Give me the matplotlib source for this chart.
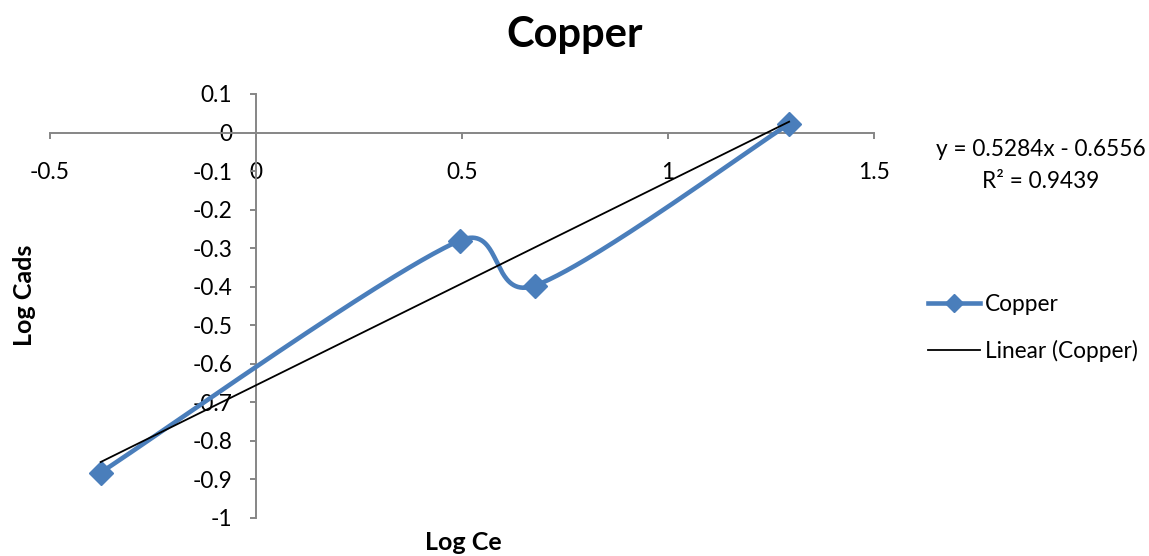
import numpy as np
import matplotlib
matplotlib.use("Agg")
import matplotlib.pyplot as plt
from matplotlib.lines import Line2D

plt.rcParams['font.family'] = ['Lato', 'DejaVu Sans']

# ---- data ----
log_ce = [-0.377, 0.494, 0.677, 1.294]
log_cads = [-0.882, -0.2805, -0.397, 0.0225]
trend_slope = 0.5284
trend_intercept = -0.6556
trend_r2 = 0.9439
x_ticks = [-0.5, 0, 0.5, 1, 1.5]
x_tick_labels = ['-0.5', '0', '0.5', '1', '1.5']
y_ticks = [0.1, 0, -0.1, -0.2, -0.3, -0.4, -0.5, -0.6, -0.7, -0.8, -0.9, -1]
y_tick_labels = ['0.1', '0', '-0.1', '-0.2', '-0.3', '-0.4', '-0.5', '-0.6',
                 '-0.7', '-0.8', '-0.9', '-1']
series_name = 'Copper'
trend_name = 'Linear (Copper)'

BLUE = '#4A7EBB'
GRAY = '#868686'

W, H = 1149, 556
fig = plt.figure(figsize=(W / 100, H / 100), dpi=100)
ax = fig.add_axes([50 / W, 38 / H, 824 / W, 424 / H])
ax.set_xlim(-0.5, 1.5)
ax.set_ylim(-1, 0.1)


def smooth_curve(ax, xs, ys, n=80, clamp=0.55):
    """Excel-like smoothed line built in screen space (Catmull-Rom Bezier,
    control arms limited relative to the segment length)."""
    P = ax.transData.transform(np.column_stack([xs, ys]).astype(float))
    ext = np.vstack([P[0], P, P[-1]])
    out = []
    t = np.linspace(0, 1, n)[:, None]
    for i in range(len(P) - 1):
        p0, p3 = P[i], P[i + 1]
        seg_len = np.linalg.norm(p3 - p0)
        a1 = (ext[i + 2] - ext[i]) / 6.0
        a2 = (ext[i + 3] - ext[i + 1]) / 6.0
        for a in (a1, a2):
            L = np.linalg.norm(a)
            if L > clamp * seg_len:
                a *= clamp * seg_len / L
        c1 = p0 + a1
        c2 = p3 - a2
        seg = ((1 - t) ** 3) * p0 + 3 * ((1 - t) ** 2) * t * c1 \
            + 3 * (1 - t) * t ** 2 * c2 + t ** 3 * p3
        out.append(seg if i == 0 else seg[1:])
    c = ax.transData.inverted().transform(np.vstack(out))
    return c[:, 0], c[:, 1]


# smoothed series
sx, sy = smooth_curve(ax, log_ce, log_cads)
ax.plot(sx, sy, color=BLUE, lw=3.3, solid_capstyle='round', zorder=3, clip_on=False)
ax.plot(log_ce, log_cads, linestyle='none', marker='D', markersize=12.5,
        color=BLUE, zorder=4, clip_on=False)

# linear trendline
tx = np.array([min(log_ce), max(log_ce)])
ax.plot(tx, trend_slope * tx + trend_intercept, color='black', lw=1.3, zorder=5,
        clip_on=False)

# axes crossing at origin
for s in ['top', 'right']:
    ax.spines[s].set_visible(False)
ax.spines['left'].set_position(('data', 0))
ax.spines['bottom'].set_position(('data', 0))
for s in ['left', 'bottom']:
    ax.spines[s].set_color(GRAY)
    ax.spines[s].set_linewidth(1.4)
ax.set_xticks(x_ticks)
ax.set_xticklabels(x_tick_labels)
ax.set_yticks(y_ticks)
ax.set_yticklabels(y_tick_labels)
ax.tick_params(axis='x', direction='out', length=4, width=1.4, color=GRAY,
               labelsize=16.3, pad=17, labelcolor='black')
ax.tick_params(axis='y', direction='out', length=4, width=1.4, color=GRAY,
               labelsize=16.3, pad=13, labelcolor='black')

# titles
fig.text(575 / W, 1 - 35 / H, 'Copper', ha='center', va='center',
         fontsize=30, fontweight='bold')
fig.text(24 / W, 1 - 295 / H, 'Log Cads', ha='center', va='center',
         rotation=90, fontsize=18, fontweight='bold')
fig.text(463 / W, 1 - 543 / H, 'Log Ce', ha='center', va='center',
         fontsize=18, fontweight='bold')

# trendline equation
fig.text(1041 / W, 1 - 149 / H, f'y = {trend_slope:.4f}x - {abs(trend_intercept):.4f}',
         ha='center', va='center', fontsize=16.3)
fig.text(1041 / W, 1 - 181 / H, f'R² = {trend_r2:.4f}',
         ha='center', va='center', fontsize=16.3)

# legend
h1 = Line2D([], [], color=BLUE, lw=3.3, marker='D', markersize=9)
h2 = Line2D([], [], color='black', lw=1.3)
ax.legend([h1, h2], [series_name, trend_name], loc='center left',
          bbox_to_anchor=(928 / W, 1 - 328 / H), bbox_transform=fig.transFigure,
          frameon=False, fontsize=16.3, handlelength=2.3, handletextpad=0.2,
          labelspacing=1.08, borderpad=0, borderaxespad=0)

fig.savefig('out.png', dpi=100)
